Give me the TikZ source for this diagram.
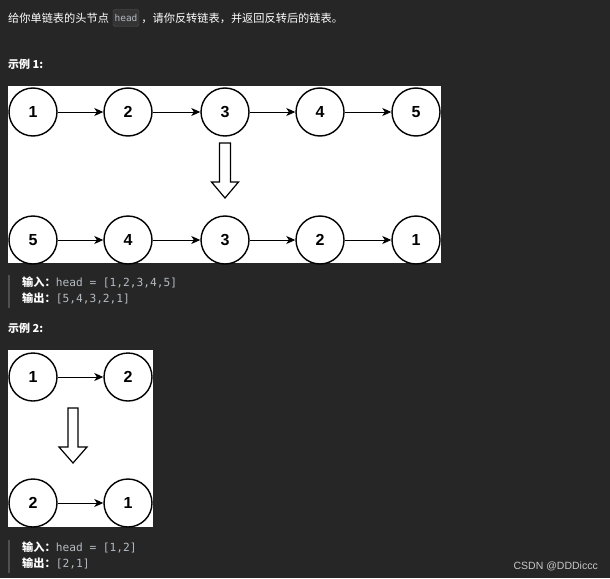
\documentclass[tikz,border=0pt]{standalone}
\usepackage{fontspec}
\setmainfont{Liberation Sans}
\setmonofont{DejaVu Sans Mono}
\newfontfamily\cjk{Noto Sans CJK SC}
\usetikzlibrary{arrows.meta}
\definecolor{pagebg}{RGB}{38,38,38}
\definecolor{codegray}{RGB}{180,186,194}
\definecolor{codebg}{RGB}{52,52,52}
\definecolor{codeframe}{RGB}{82,82,82}
\definecolor{quotebar}{RGB}{80,80,80}
\definecolor{marktext}{RGB}{200,200,200}
\begin{document}
\begin{tikzpicture}[x=1pt,y=-1pt,
  txt/.style={anchor=west,inner sep=0pt,text=white,font=\cjk\fontsize{11.2}{13}\selectfont},
  heading/.style={txt,font=\cjk\bfseries\fontsize{11}{13}\selectfont},
  codebox/.style={draw=codeframe,fill=codebg,rounded corners=2.5pt,inner sep=0pt,minimum width=26pt,minimum height=17pt,text=codegray,font=\ttfamily\fontsize{9.5}{11}\selectfont},
  listnode/.style={circle,draw=black,line width=1.4pt,fill=white,minimum size=48pt,inner sep=0pt,font=\bfseries\fontsize{16}{16}\selectfont},
  link/.style={-{Stealth[length=9pt,width=8pt,inset=2.5pt]},line width=1pt},
  bigarrow/.style={draw=black,fill=white,line width=1.2pt,line join=miter}]
\fill[pagebg] (0,0) rectangle (610,578);
\useasboundingbox (0,0) rectangle (610,578);
\node[txt] (intro) at (8,18) {给你单链表的头节点};
\node[codebox] (headcode) at (126,18) {head};
\node[txt] (task) at ([xshift=2pt]headcode.east) {，请你反转链表，并返回反转后的链表。};
\node[heading] (ex1) at (8,64) {示例 1:};
\fill[white] (8,86) rectangle (441,263);
\node[listnode] (a1) at (33,112) {1};
\node[listnode] (a2) at (128,112) {2};
\node[listnode] (a3) at (225,112) {3};
\node[listnode] (a4) at (320,112) {4};
\node[listnode] (a5) at (416,112) {5};
\draw[link] (a1) -- (a2);
\draw[link] (a2) -- (a3);
\draw[link] (a3) -- (a4);
\draw[link] (a4) -- (a5);
\draw[bigarrow] (219.5,143) -- (230.5,143) -- (230.5,182) -- (238.5,182) -- (225,198) -- (211.5,182) -- (219.5,182) -- cycle;
\node[listnode] (b5) at (33,240) {5};
\node[listnode] (b4) at (128,240) {4};
\node[listnode] (b3) at (225,240) {3};
\node[listnode] (b2) at (320,240) {2};
\node[listnode] (b1) at (416,240) {1};
\draw[link] (b5) -- (b4);
\draw[link] (b4) -- (b3);
\draw[link] (b3) -- (b2);
\draw[link] (b2) -- (b1);
\fill[quotebar] (8,275) rectangle (10,308);
\node[txt] (in1) at (22,282) {{\bfseries 输入：}{\ttfamily\color{codegray}head = [1,2,3,4,5]}};
\node[txt] (out1) at (22,298) {{\bfseries 输出：}{\ttfamily\color{codegray}[5,4,3,2,1]}};
\node[heading] (ex2) at (8,328) {示例 2:};
\fill[white] (8,350) rectangle (153,527);
\node[listnode] (c1) at (33,377) {1};
\node[listnode] (c2) at (128,377) {2};
\draw[link] (c1) -- (c2);
\draw[bigarrow] (68,408) -- (78,408) -- (78,447) -- (87,447) -- (73,463) -- (59,447) -- (68,447) -- cycle;
\node[listnode] (d2) at (33,503) {2};
\node[listnode] (d1) at (128,503) {1};
\draw[link] (d2) -- (d1);
\fill[quotebar] (8,540) rectangle (10,573);
\node[txt] (in2) at (22,547) {{\bfseries 输入：}{\ttfamily\color{codegray}head = [1,2]}};
\node[txt] (out2) at (22,563) {{\bfseries 输出：}{\ttfamily\color{codegray}[2,1]}};
\node[anchor=east,inner sep=0pt,text=marktext,font=\fontsize{10.5}{12}\selectfont] (mark) at (598,566) {CSDN @DDDiccc};
\end{tikzpicture}
\end{document}
